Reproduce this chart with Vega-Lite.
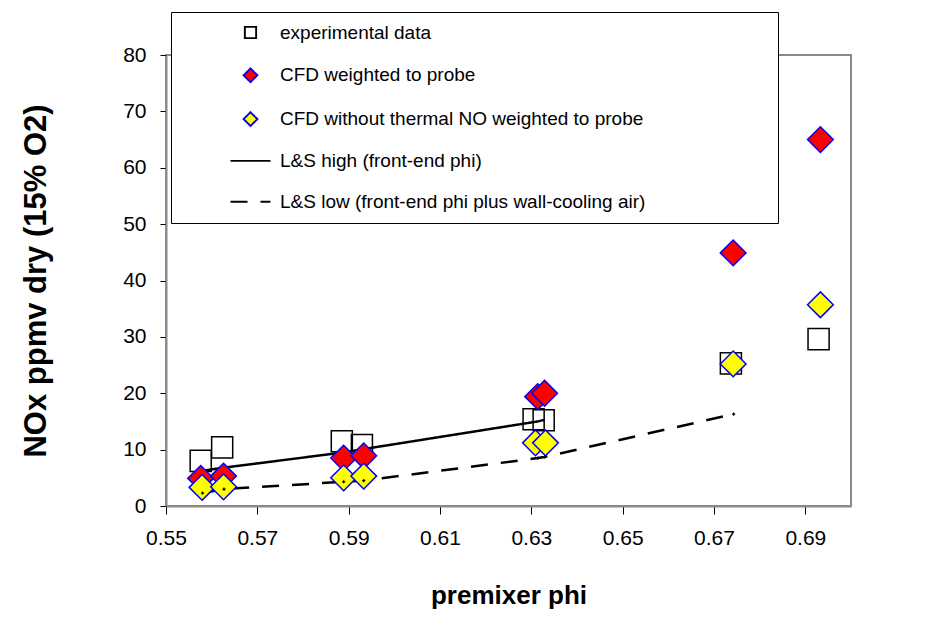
{
  "$schema": "https://vega.github.io/schema/vega-lite/v6.json",
  "width": 685,
  "height": 451,
  "autosize": {"type": "none"},
  "padding": {"left": 166, "top": 55, "right": 75, "bottom": 121},
  "background": "white",
  "config": {
    "font": "Liberation Sans",
    "view": {"stroke": "#8a8a8a", "strokeWidth": 2},
    "axis": {"grid": false, "labelFlush": false, "labelOverlap": false, "domainColor": "#8a8a8a", "domainWidth": 2, "tickColor": "black", "tickWidth": 1, "labelColor": "black", "labelFont": "Liberation Sans", "labelFontSize": 21, "titleFont": "Liberation Sans", "titleFontWeight": "bold", "titleColor": "black"},
    "legend": {
      "orient": "none", "legendX": 5, "legendY": -43,
      "padding": 11, "rowPadding": 20.8,
      "labelFont": "Liberation Sans", "labelFontSize": 19, "labelColor": "black", "labelLimit": 800,
      "symbolSize": 190, "symbolStrokeWidth": 1.9,
      "labelOffset": 20, "symbolOffset": 59,
      "strokeColor": "black", "fillColor": "white",
      "title": null
    }
  },
  "data": {"values": [
    {"phi": 0.5576, "nox": 8.0, "series": "experimental data"},
    {"phi": 0.5623, "nox": 10.4, "series": "experimental data"},
    {"phi": 0.5885, "nox": 11.5, "series": "experimental data"},
    {"phi": 0.5929, "nox": 10.8, "series": "experimental data"},
    {"phi": 0.6305, "nox": 15.4, "series": "experimental data"},
    {"phi": 0.6327, "nox": 15.2, "series": "experimental data"},
    {"phi": 0.6737, "nox": 25.3, "series": "experimental data"},
    {"phi": 0.6929, "nox": 29.6, "series": "experimental data"},
    {"phi": 0.5576, "nox": 4.9, "series": "CFD weighted to probe"},
    {"phi": 0.5626, "nox": 5.3, "series": "CFD weighted to probe"},
    {"phi": 0.5889, "nox": 8.5, "series": "CFD weighted to probe"},
    {"phi": 0.5933, "nox": 8.9, "series": "CFD weighted to probe"},
    {"phi": 0.6314, "nox": 19.4, "series": "CFD weighted to probe"},
    {"phi": 0.6329, "nox": 20.0, "series": "CFD weighted to probe"},
    {"phi": 0.6742, "nox": 44.9, "series": "CFD weighted to probe"},
    {"phi": 0.6933, "nox": 65.0, "series": "CFD weighted to probe"},
    {"phi": 0.5579, "nox": 3.3, "series": "CFD without thermal NO weighted to probe"},
    {"phi": 0.5626, "nox": 3.4, "series": "CFD without thermal NO weighted to probe"},
    {"phi": 0.5889, "nox": 5.0, "series": "CFD without thermal NO weighted to probe"},
    {"phi": 0.5933, "nox": 5.3, "series": "CFD without thermal NO weighted to probe"},
    {"phi": 0.6309, "nox": 11.2, "series": "CFD without thermal NO weighted to probe"},
    {"phi": 0.6331, "nox": 11.2, "series": "CFD without thermal NO weighted to probe"},
    {"phi": 0.6742, "nox": 25.2, "series": "CFD without thermal NO weighted to probe"},
    {"phi": 0.6933, "nox": 35.7, "series": "CFD without thermal NO weighted to probe"},
    {"phi": 0.5576, "nox": 6.2, "series": "L&S high (front-end phi)"},
    {"phi": 0.5626, "nox": 6.8, "series": "L&S high (front-end phi)"},
    {"phi": 0.5889, "nox": 9.5, "series": "L&S high (front-end phi)"},
    {"phi": 0.5933, "nox": 10.1, "series": "L&S high (front-end phi)"},
    {"phi": 0.6314, "nox": 15.0, "series": "L&S high (front-end phi)"},
    {"phi": 0.6329, "nox": 15.3, "series": "L&S high (front-end phi)"},
    {"phi": 0.5580, "nox": 2.3, "series": "L&S low (front-end phi plus wall-cooling air)"},
    {"phi": 0.5627, "nox": 3.0, "series": "L&S low (front-end phi plus wall-cooling air)"},
    {"phi": 0.5889, "nox": 4.3, "series": "L&S low (front-end phi plus wall-cooling air)"},
    {"phi": 0.5933, "nox": 4.5, "series": "L&S low (front-end phi plus wall-cooling air)"},
    {"phi": 0.6314, "nox": 8.5, "series": "L&S low (front-end phi plus wall-cooling air)"},
    {"phi": 0.6329, "nox": 8.7, "series": "L&S low (front-end phi plus wall-cooling air)"},
    {"phi": 0.6743, "nox": 16.3, "series": "L&S low (front-end phi plus wall-cooling air)"}
  ]},
  "encoding": {
    "x": {"field": "phi", "type": "quantitative",
      "scale": {"domain": [0.55, 0.70], "nice": false, "zero": false},
      "axis": {"values": [0.55, 0.57, 0.59, 0.61, 0.63, 0.65, 0.67, 0.69], "format": ".2f", "tickSize": 8, "labelPadding": 13, "title": "premixer phi", "titleFontSize": 26, "titlePadding": 34}},
    "y": {"field": "nox", "type": "quantitative",
      "scale": {"domain": [0, 80], "nice": false},
      "axis": {"values": [0, 10, 20, 30, 40, 50, 60, 70, 80], "tickSize": 6, "labelPadding": 14, "title": "NOx ppmv dry (15% O2)", "titleFontSize": 31, "titlePadding": 70}}
  },
  "layer": [
    {
      "transform": [{"filter": "indexof(datum.series, 'L&S') == 0"}],
      "mark": {"type": "line", "strokeWidth": 2.5},
      "encoding": {
        "detail": {"field": "series", "type": "nominal"},
        "stroke": {"field": "series", "type": "nominal",
          "scale": {"domain": ["experimental data", "CFD weighted to probe", "CFD without thermal NO weighted to probe", "L&S high (front-end phi)", "L&S low (front-end phi plus wall-cooling air)"],
                    "range": ["black", "blue", "blue", "black", "black"]},
          "legend": {"labelExpr": "datum.label + '\u00a0\u00a0\u00a0\u00a0\u00a0\u00a0\u00a0\u00a0\u00a0\u00a0\u00a0\u00a0\u00a0\u00a0\u00a0\u00a0\u00a0\u00a0\u00a0\u00a0\u00a0\u00a0\u00a0\u200b'"}},
        "strokeDash": {"field": "series", "type": "nominal",
          "scale": {"domain": ["experimental data", "CFD weighted to probe", "CFD without thermal NO weighted to probe", "L&S high (front-end phi)", "L&S low (front-end phi plus wall-cooling air)"],
                    "range": [[1, 0], [1, 0], [1, 0], [1, 0], [17, 13]]},
          "legend": {"labelExpr": "datum.label + '\u00a0\u00a0\u00a0\u00a0\u00a0\u00a0\u00a0\u00a0\u00a0\u00a0\u00a0\u00a0\u00a0\u00a0\u00a0\u00a0\u00a0\u00a0\u00a0\u00a0\u00a0\u00a0\u00a0\u200b'"}}
      }
    },
    {
      "transform": [{"filter": "indexof(datum.series, 'L&S') != 0"}],
      "mark": {"type": "point", "filled": true, "size": 660, "strokeWidth": 1.5, "opacity": 1},
      "encoding": {
        "shape": {"field": "series", "type": "nominal",
          "scale": {"domain": ["experimental data", "CFD weighted to probe", "CFD without thermal NO weighted to probe", "L&S high (front-end phi)", "L&S low (front-end phi plus wall-cooling air)"],
                    "range": ["M-0.82,-0.82H0.82V0.82H-0.82Z", "diamond", "diamond", "M-2.9,0H2.9", "M-2.9,0H2.9"]},
          "legend": {"labelExpr": "datum.label + '\u00a0\u00a0\u00a0\u00a0\u00a0\u00a0\u00a0\u00a0\u00a0\u00a0\u00a0\u00a0\u00a0\u00a0\u00a0\u00a0\u00a0\u00a0\u00a0\u00a0\u00a0\u00a0\u00a0\u200b'"}},
        "fill": {"field": "series", "type": "nominal",
          "scale": {"domain": ["experimental data", "CFD weighted to probe", "CFD without thermal NO weighted to probe", "L&S high (front-end phi)", "L&S low (front-end phi plus wall-cooling air)"],
                    "range": ["transparent", "#ff0000", "#ffff00", "transparent", "transparent"]},
          "legend": {"labelExpr": "datum.label + '\u00a0\u00a0\u00a0\u00a0\u00a0\u00a0\u00a0\u00a0\u00a0\u00a0\u00a0\u00a0\u00a0\u00a0\u00a0\u00a0\u00a0\u00a0\u00a0\u00a0\u00a0\u00a0\u00a0\u200b'"}},
        "stroke": {"field": "series", "type": "nominal",
          "legend": {"labelExpr": "datum.label + '\u00a0\u00a0\u00a0\u00a0\u00a0\u00a0\u00a0\u00a0\u00a0\u00a0\u00a0\u00a0\u00a0\u00a0\u00a0\u00a0\u00a0\u00a0\u00a0\u00a0\u00a0\u00a0\u00a0\u200b'"}}
      }
    },
    {
      "transform": [{"filter": "indexof(datum.series, 'L&S low') == 0"}],
      "mark": {"type": "point", "shape": "cross", "filled": true, "size": 10, "color": "black", "opacity": 1},
      "encoding": {}
    }
  ]
}
